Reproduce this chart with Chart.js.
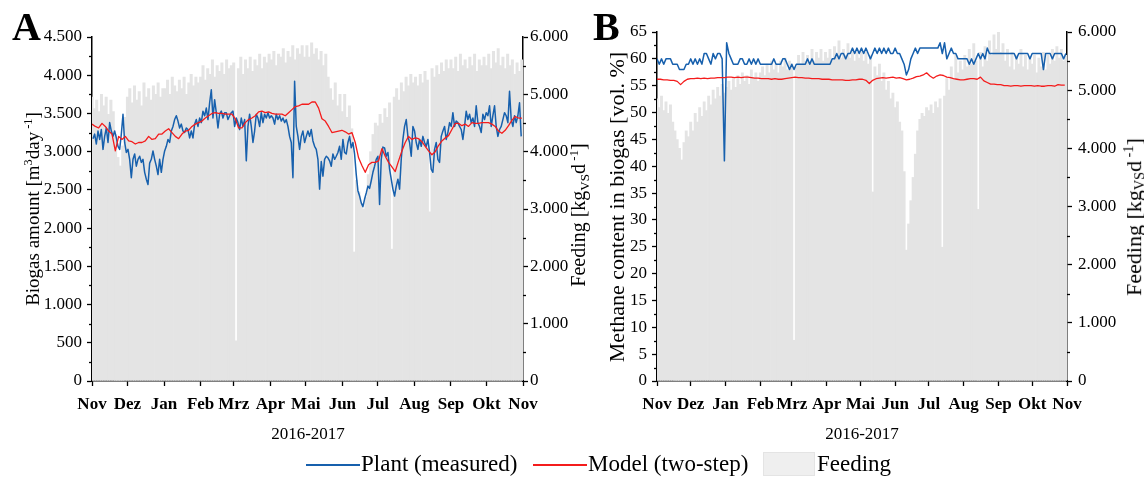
<!DOCTYPE html>
<html lang="de">
<head>
    <meta charset="UTF-8">
    <title>Biogas und Methan 2016-2017</title>
    <script src="https://cdn.jsdelivr.net/npm/chart.js@4.4.1/dist/chart.umd.min.js"></script>
    <style>
        body {
            margin: 0;
            background: #fff;
            font-family: "Liberation Serif", "Times New Roman", serif;
            color: #000;
        }
        #wrap {
            position: relative;
            width: 1144px;
            height: 478px;
            overflow: hidden;
        }
        canvas {
            position: absolute;
            top: 0;
        }
        #chartA { left: 0; }
        #chartB { left: 590px; }
        .lbl {
            position: absolute;
            white-space: nowrap;
            line-height: 1;
        }
        .panel {
            font-weight: bold;
            font-size: 40px;
            top: 7px;
        }
        .ytitle {
            transform: translate(-50%, -50%) rotate(-90deg);
        }
        .xtitle {
            font-size: 17px;
            top: 433px;
            transform: translate(-50%, -50%);
        }
        .sup { font-size: 0.65em; vertical-align: 0.55em; }
        .sub { font-size: 0.65em; vertical-align: -0.25em; }
        .leg-line {
            position: absolute;
            height: 2px;
            top: 464px;
            width: 54px;
        }
        .leg-text {
            position: absolute;
            font-size: 23px;
            top: 452px;
            white-space: nowrap;
            line-height: 1;
        }
        .leg-box {
            position: absolute;
            left: 763px;
            top: 452px;
            width: 52px;
            height: 24px;
            background: #efefef;
            border: 1px solid #e4e4e4;
            box-sizing: border-box;
        }
    </style>
</head>
<body>
<div id="wrap">
    <canvas id="chartA" width="590" height="478"></canvas>
    <canvas id="chartB" width="554" height="478"></canvas>

    <div class="lbl panel" style="left:12px">A</div>
    <div class="lbl panel" style="left:593px">B</div>

    <div class="lbl ytitle" style="left:32px; top:209px; font-size:19px">Biogas amount [m<span class="sup">3</span>day<span class="sup"> -1</span>]</div>
    <div class="lbl ytitle" style="left:579px; top:215px; font-size:20px">Feeding [kg<span class="sub">VS</span>d<span class="sup"> -1</span>]</div>
    <div class="lbl ytitle" style="left:617px; top:207px; font-size:22px">Methane content in biogas [vol. %]</div>
    <div class="lbl ytitle" style="left:1134px; top:217px; font-size:22px">Feeding [kg<span class="sub">VS</span>d<span class="sup"> -1</span>]</div>

    <div class="lbl xtitle" style="left:308px">2016-2017</div>
    <div class="lbl xtitle" style="left:862px">2016-2017</div>

    <div class="leg-line" style="left:306px; background:#1760ad"></div>
    <div class="leg-text" style="left:361px">Plant (measured)</div>
    <div class="leg-line" style="left:533px; background:#f41c1c"></div>
    <div class="leg-text" style="left:588px">Model (two-step)</div>
    <div class="leg-box"></div>
    <div class="leg-text" style="left:817px">Feeding</div>
</div>

<script>
    // x axis: days after 1 Nov 2016, one tick per month
    const monthDays = [0, 30, 61, 92, 120, 151, 181, 212, 242, 273, 304, 334, 365];
    const monthLabels = ['Nov', 'Dez', 'Jan', 'Feb', 'Mrz', 'Apr', 'Mai', 'Jun', 'Jul', 'Aug', 'Sep', 'Okt', 'Nov'];

    // ---- Panel A: biogas amount [m3/day] ----
    const plantBiogasStart = 0.85;   // day of first reading
    const plantBiogasStep = 1.411;   // days between readings
    const plantBiogas = [
        3170, 3230, 3100, 3270, 3160, 3290, 3030, 3200, 3310, 3120,
        3380, 3270, 3200, 3270, 3180, 3070, 3030, 3230, 3490, 3120,
        2990, 3030, 2900, 2660, 2900, 2970, 2810, 2900, 2940, 2860,
        2900, 2730, 2640, 2570, 2850, 2900, 3010, 2900, 2810, 2700,
        2900, 2730, 2900, 3010, 3070, 3160, 3120, 3270, 3330, 3420,
        3470, 3400, 3310, 3360, 3270, 3250, 3310, 3290, 3180, 3270,
        3180, 3360, 3420, 3330, 3440, 3380, 3530, 3470, 3570, 3420,
        3640, 3810, 3440, 3680, 3510, 3310, 3490, 3530, 3440, 3510,
        3510, 3420, 3470, 3510, 3530, 3330, 3440, 3380, 3290, 3440,
        3330, 3420, 2880, 3330, 3490, 3330, 3120, 3270, 3490, 3440,
        3330, 3510, 3380, 3490, 3440, 3510, 3440, 3470, 3440, 3360,
        3490, 3420, 3470, 3400, 3440, 3380, 3420, 3330, 3200, 3120,
        2660, 3920, 3330, 3200, 3030, 3200, 3270, 3120, 3200,
        3270, 3200, 3290, 3140, 3070, 3030, 2900, 2510, 2870, 2680,
        2900, 2940, 2920, 2880, 2810, 2970, 2900, 2940, 2990, 3070,
        2900, 3160, 2990, 2970, 3120, 3200, 3050, 3120, 2970, 2700,
        2490, 2420, 2330, 2280, 2380, 2460, 2550, 2520, 2620, 2730,
        2810, 2900, 2940, 2310, 2900, 3060, 3050, 2940, 2990, 2770,
        2640, 2510, 2420, 2550, 2640, 2510, 2900, 3160, 3330, 3420,
        3200, 3120, 2940, 3330, 3270, 3120, 3030, 3160, 3070, 3200,
        3120, 3070, 3160, 2990, 2770, 2730, 3030, 3120, 2900, 2860,
        3200, 3270, 3330, 3160, 3250, 3380, 3330, 3510, 3330, 3400,
        3380, 3330, 3290, 3160, 3330, 3530, 3420, 3490, 3380, 3440,
        3330, 3600, 3380, 3330, 3250, 3490, 3420, 3510, 3470, 3600,
        3330, 3470, 3600, 3330, 3200, 3290, 3330, 3420, 3510, 3470,
        3380, 3790, 3420, 3330, 3470, 3380, 3470, 3640, 3200
    ];

    const modelBiogasStep = 2.822;
    const modelBiogas = [
        3360, 3330, 3310, 3370, 3330, 3270, 3230, 3010, 3200, 3160,
        3200, 3140, 3130, 3100, 3120, 3120, 3140, 3200, 3160, 3170,
        3230, 3230, 3270, 3300, 3250, 3200, 3170, 3230, 3270, 3280,
        3330, 3360, 3380, 3400, 3440, 3470, 3500, 3510, 3500, 3500,
        3490, 3490, 3490, 3430, 3310, 3310, 3380, 3420, 3440, 3470,
        3520, 3530, 3510, 3520, 3500, 3490, 3490, 3490, 3470, 3510,
        3550, 3590, 3600, 3620, 3620,
        3620, 3650, 3650, 3570, 3430, 3400, 3330, 3250, 3260, 3270,
        3280, 3260, 3230, 3250, 3120, 2920, 2820, 2730, 2830, 2860,
        2860, 2880, 3040, 2940, 2860, 2800, 2740, 2880, 3010, 3120,
        3200, 3160, 3180, 3170, 3130, 3070, 3010, 2960, 3000, 3080,
        3140, 3180, 3210, 3290, 3370, 3370, 3340, 3360, 3330, 3380,
        3370, 3370, 3380, 3380, 3380, 3360, 3330, 3270, 3240, 3280,
        3340, 3410, 3460, 3440, 3440
    ];

    // feeding [kgVS/d], one bar every 2 days
    const feedStep = 2;
    const feedingA = [
        4950, 4750, 4900, 4700, 5000, 4800, 4950, 4650, 4900, 4700, 4300, 3900, 3750, 4100, 4600,
        4950, 5100, 4850, 5150, 4900, 5050, 4800, 5200, 4950, 5100, 4900, 5150, 5000, 5200, 4950, 5100,
        5100, 5250, 5000, 5300, 5150, 5050, 5250, 5100, 5300, 5000, 5200, 5350, 5150, 5300, 5200,
        5300, 5500, 5250, 5450, 5350, 5600, 5300, 5500, 5400, 5550, 5350, 5600, 5450, 5500,
        5550, 700, 5450, 5650, 5350, 5600, 5450, 5650, 5400, 5600, 5500, 5700, 5450, 5650, 5550, 5700,
        5600, 5750, 5500, 5700, 5650, 5800, 5550, 5750, 5650, 5850, 5600, 5800, 5700, 5850, 5650,
        5850, 5650, 5900, 5700, 5800, 5600, 5750, 5500, 5700, 5300, 5100, 4900, 5200, 4800, 5000,
        4700, 5000, 4600, 4800, 4400, 2250, 3500, 3300, 3100, 3000, 3200, 3600, 4000, 4300, 4500,
        4450, 4650, 4500, 4750, 4600, 4850, 2300, 4950, 5100, 4900, 5200, 5050, 5300, 5150, 5350, 5200,
        5300, 5150, 5350, 5200, 5400, 5250, 2950, 5450, 5300, 5500, 5350, 5550, 5400, 5600, 5450,
        5600, 5450, 5650, 5400, 5700, 5500, 5600, 5450, 5650, 5500, 5700, 5400, 5600, 5500, 5650,
        5500, 5700, 5450, 5750, 5550, 5800, 5500, 5650, 5450, 5700, 5500, 5600, 5350, 5550, 5400, 5600
    ];

    // ---- Panel B: methane content [vol. %] ----
    const plantMethaneStep = 2;
    const plantMethane = [
        60, 59, 60, 59, 60, 60, 60, 59, 59, 59,
        58, 58, 58, 59, 59, 60, 59, 60, 59, 60,
        59, 61, 61, 60, 59, 61, 60, 61, 61, 60,
        41, 63, 61, 60, 59, 59, 59, 60, 60, 59,
        59, 60, 59, 60, 59, 60, 59, 59, 59, 59,
        59, 59, 60, 59, 59, 59, 60, 60, 59, 58,
        59, 58, 59, 59, 59, 59, 59, 60, 59, 60,
        59, 59, 59, 59, 59, 59, 59, 59, 60, 60,
        61, 60, 61, 61, 60, 61, 61, 62, 61, 62,
        61, 62, 61, 62, 61, 60, 61, 62, 61, 62,
        61, 62, 61, 62, 61, 61, 62, 61, 61, 60,
        59, 57, 58, 60, 61, 62, 61, 62, 62, 62,
        62, 62, 62, 62, 62, 62, 63, 61, 63, 60,
        61, 62, 61, 61, 60, 60, 60, 60, 60, 59,
        60, 59, 60, 61, 60, 61, 60, 62, 61, 61,
        61, 61, 61, 61, 61, 61, 61, 61, 61, 61,
        60, 61, 61, 61, 61, 61, 60, 61, 61, 61,
        61, 61, 58, 61, 61, 61, 60, 61, 61, 61,
        61, 60, 61
    ];

    const modelMethaneStep = 3;
    const modelMethane = [
        56.2, 56.2, 56.1, 56.1, 56.0, 56.0, 55.8, 55.2, 55.8, 56.2,
        56.3, 56.3, 56.4, 56.3, 56.4, 56.3, 56.4, 56.4, 56.5, 56.5,
        56.5, 56.6, 56.6, 56.5, 56.6, 56.5, 56.6, 56.6, 56.5, 56.4,
        56.4, 56.3, 56.3, 56.3, 56.2, 56.3, 56.2, 56.2, 56.3, 56.4,
        56.5, 56.6, 56.5, 56.5, 56.4, 56.4, 56.3, 56.3, 56.3, 56.2,
        56.2, 56.2, 56.1, 56.1, 56.1, 56.1, 56.0, 56.0, 56.1, 56.1,
        56.2, 56.2, 56.0, 55.4, 56.0, 56.3, 56.4, 56.5, 56.4, 56.5,
        56.6, 56.4, 56.5, 56.3, 56.1, 56.2, 56.4, 56.7, 56.8, 57.0,
        57.4, 56.8, 56.4, 56.8, 57.0, 56.9, 56.6, 56.5, 56.3, 56.2,
        56.1, 56.1, 56.2, 56.3, 56.3, 56.2, 56.6, 55.9, 55.6, 55.3,
        55.3, 55.2, 55.2, 55.0, 55.0, 54.9, 55.0, 55.0, 54.9, 55.0,
        55.0, 55.0, 54.9, 55.0, 54.9, 54.9, 55.0, 55.0, 54.9, 55.2,
        55.1, 55.1
    ];

    const feedingB = [
        4850, 4700, 4900, 4650, 4800, 4600, 4750, 4450, 4300, 4150, 4000, 3800, 4100, 4300, 4200,
        4450, 4300, 4600, 4450, 4700, 4550, 4800, 4650, 4900, 4750, 5000, 4850, 5050, 4900, 5100, 4950,
        5050, 5150, 5000, 5200, 5050, 5250, 5100, 5300, 5150, 5250, 5100, 5350, 5200, 5300, 5150,
        5300, 5400, 5250, 5450, 5300, 5500, 5350, 5450, 5300, 5500, 5400, 5550, 5350, 5500,
        5450, 700, 5400, 5600, 5450, 5650, 5500, 5600, 5450, 5700, 5500, 5650, 5550, 5700, 5500, 5650,
        5550, 5700, 5500, 5750, 5600, 5850, 5550, 5700, 5600, 5800, 5550, 5700, 5500, 5650, 5550,
        5700, 5500, 5650, 5450, 5600, 3250, 5400, 5250, 5450, 5150, 5300, 5000, 5150, 4850, 4950,
        4700, 4800, 4450, 4300, 3600, 2250, 2700, 3100, 3500, 3900, 4300, 4500, 4600, 4550, 4700,
        4650, 4750, 4600, 4800, 4700, 4850, 2300, 4900, 5200, 5000, 5400, 5200, 5600, 5300, 5500, 5350,
        5600, 5400, 5700, 5450, 5800, 5500, 2950, 5650, 5400, 5750, 5500, 5850, 5600, 5950, 5700,
        6000, 5650, 5800, 5500, 5700, 5400, 5650, 5350, 5600, 5450, 5700, 5400, 5600, 5350, 5550,
        5450, 5600, 5300, 5550, 5400, 5650, 5350, 5600, 5450, 5700, 5500, 5750, 5550, 5700, 5500, 5600
    ];

    const BLUE = '#1760ad';
    const RED = '#f41c1c';
    const GRAY = '#e4e4e4';
    const FONT = "'Liberation Serif', 'Times New Roman', serif";

    function series(values, step, start) {
        return values.map((v, i) => ({ x: (start || 0) + i * step, y: v }));
    }

    // 4500 -> "4.500"
    function deNum(v) {
        const s = String(Math.round(v));
        return s.length > 3 ? s.slice(0, -3) + '.' + s.slice(-3) : s;
    }

    // short ticks halfway between the labelled ones
    const minorTicks = {
        id: 'minorTicks',
        afterDraw(chart, args, opts) {
            const ctx = chart.ctx;
            ctx.save();
            ctx.strokeStyle = '#000';
            ctx.lineWidth = 1.3;
            (opts.axes || []).forEach(a => {
                const s = chart.scales[a.id];
                const left = s.position === 'left';
                const x0 = left ? s.right : s.left;
                for (let v = s.min + a.step / 2; v < s.max; v += a.step) {
                    const y = Math.round(s.getPixelForValue(v)) + 0.5;
                    ctx.beginPath();
                    ctx.moveTo(x0, y);
                    ctx.lineTo(x0 + (left ? -3 : 3), y);
                    ctx.stroke();
                }
            });
            ctx.restore();
        }
    };

    function axisStyle() {
        return {
            grid: { display: true, drawOnChartArea: false, drawTicks: true, tickLength: 5, tickColor: '#000', tickWidth: 1.3, offset: false },
            border: { display: true, color: '#000', width: 1.5 }
        };
    }

    function makePanel(canvasId, p) {
        return new Chart(document.getElementById(canvasId), {
            type: 'bar',
            data: {
                datasets: [
                    { type: 'line', label: 'Model (two-step)', data: p.model, yAxisID: 'y', borderColor: RED, borderWidth: 1.3, pointRadius: 0, borderJoinStyle: 'round', order: 1 },
                    { type: 'line', label: 'Plant (measured)', data: p.plant, yAxisID: 'y', borderColor: BLUE, borderWidth: 1.5, pointRadius: 0, borderJoinStyle: 'round', order: 2 },
                    { type: 'bar', label: 'Feeding', data: p.feed, yAxisID: 'y2', backgroundColor: GRAY, barPercentage: 1, categoryPercentage: 1, order: 3 }
                ]
            },
            options: {
                responsive: false,
                animation: false,
                events: [],
                layout: { padding: { top: p.top, bottom: 60, left: 0, right: 0 } },
                plugins: {
                    legend: { display: false },
                    tooltip: { enabled: false },
                    minorTicks: { axes: [{ id: 'y', step: p.leftStep }, { id: 'y2', step: 1000 }] }
                },
                scales: {
                    x: Object.assign(axisStyle(), {
                        type: 'linear', min: 0, max: 365, offset: false,
                        afterBuildTicks: s => { s.ticks = monthDays.map(v => ({ value: v })); },
                        afterFit: s => { s.height = 478 - 60 - 381; },
                        ticks: {
                            autoSkip: false, maxRotation: 0, minRotation: 0, padding: 8, color: '#000',
                            font: { family: FONT, size: 17, weight: 'bold' },
                            callback: (v, i) => monthLabels[i]
                        }
                    }),
                    y: Object.assign(axisStyle(), {
                        position: 'left', min: 0, max: p.leftMax,
                        afterFit: s => { s.width = p.leftWidth; },
                        ticks: { stepSize: p.leftStep, padding: p.leftPad, color: '#000', font: { family: FONT, size: 17 }, callback: v => deNum(v) }
                    }),
                    y2: Object.assign(axisStyle(), {
                        position: 'right', min: 0, max: 6000,
                        afterFit: s => { s.width = p.rightWidth; },
                        ticks: { stepSize: 1000, padding: p.rightPad, color: '#000', font: { family: FONT, size: 17 }, callback: v => deNum(v) }
                    })
                }
            },
            plugins: [minorTicks]
        });
    }

    makePanel('chartA', {
        plant: series(plantBiogas, plantBiogasStep, plantBiogasStart),
        model: series(modelBiogas, modelBiogasStep),
        feed: series(feedingA, feedStep),
        top: 37, leftMax: 4500, leftStep: 500,
        leftWidth: 92, rightWidth: 67, leftPad: 5, rightPad: 2
    });

    makePanel('chartB', {
        plant: series(plantMethane, plantMethaneStep),
        model: series(modelMethane, modelMethaneStep),
        feed: series(feedingB, feedStep),
        top: 32, leftMax: 65, leftStep: 5,
        leftWidth: 67, rightWidth: 77, leftPad: 5, rightPad: 6
    });
</script>
</body>
</html>
